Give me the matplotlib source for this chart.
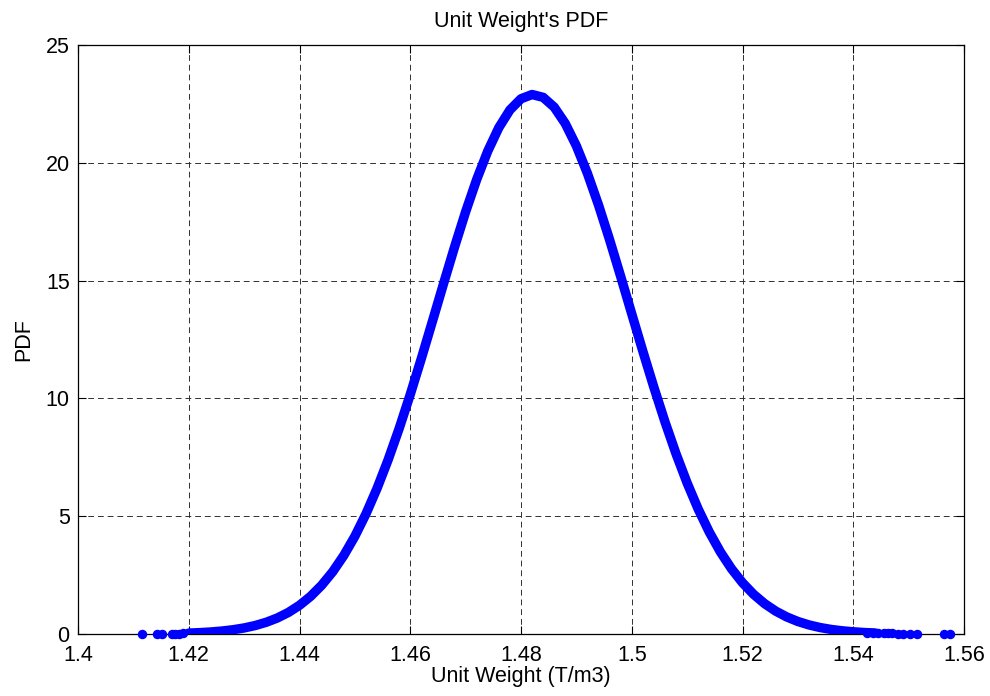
import matplotlib
matplotlib.use("Agg")
import matplotlib.pyplot as plt

plt.rcParams['font.family'] = ['Liberation Sans', 'DejaVu Sans']

# Dense part of the PDF curve
unit_weight = [1.420, 1.422, 1.424, 1.426, 1.428, 1.430, 1.432, 1.434, 1.436, 1.438,
               1.440, 1.442, 1.444, 1.446, 1.448, 1.450, 1.452, 1.454, 1.456, 1.458,
               1.460, 1.462, 1.464, 1.466, 1.468, 1.470, 1.472, 1.474, 1.476, 1.478,
               1.480, 1.482, 1.484, 1.486, 1.488, 1.490, 1.492, 1.494, 1.496, 1.498,
               1.500, 1.502, 1.504, 1.506, 1.508, 1.510, 1.512, 1.514, 1.516, 1.518,
               1.520, 1.522, 1.524, 1.526, 1.528, 1.530, 1.532, 1.534, 1.536, 1.538,
               1.540, 1.542, 1.544]
pdf = [0.039, 0.058, 0.086, 0.126, 0.181, 0.257, 0.360, 0.498, 0.680, 0.916,
       1.218, 1.598, 2.069, 2.643, 3.333, 4.148, 5.096, 6.178, 7.390, 8.725,
       10.166, 11.691, 13.268, 14.861, 16.426, 17.920, 19.293, 20.498, 21.495, 22.244,
       22.718, 22.898, 22.778, 22.361, 21.665, 20.716, 19.548, 18.206, 16.733, 15.178,
       13.587, 12.004, 10.467, 9.005, 7.647, 6.410, 5.301, 4.328, 3.486, 2.772,
       2.175, 1.684, 1.287, 0.971, 0.723, 0.531, 0.385, 0.275, 0.194, 0.136,
       0.093, 0.063, 0.042]

# Sparse tail samples
tail_x = [1.4115, 1.4142, 1.4151, 1.4169, 1.4175, 1.4182, 1.4190,
          1.5425, 1.5435, 1.5445, 1.5455, 1.5462, 1.5470, 1.5480, 1.5490,
          1.5502, 1.5515, 1.5563, 1.5575]
tail_pdf = [0.003, 0.006, 0.008, 0.013, 0.016, 0.019, 0.025,
            0.052, 0.045, 0.038, 0.032, 0.028, 0.024, 0.020, 0.016,
            0.013, 0.009, 0.002, 0.0015]

x_ticks = [1.40, 1.42, 1.44, 1.46, 1.48, 1.50, 1.52, 1.54, 1.56]
x_tick_labels = ['1.4', '1.42', '1.44', '1.46', '1.48', '1.5', '1.52', '1.54', '1.56']
y_ticks = [0, 5, 10, 15, 20, 25]

fig = plt.figure(figsize=(9.9, 6.96), dpi=100)
ax = fig.add_axes([78/990, 62/696, (964-78)/990, (634-45)/696])

ax.plot(unit_weight, pdf, color='#0000FF', lw=6.8, solid_capstyle='round',
        solid_joinstyle='round', zorder=3)
ax.plot(tail_x, tail_pdf, linestyle='none', marker='o', ms=5.8,
        mec='#0000FF', mfc='#0000FF', zorder=3, clip_on=False)

ax.set_xlim(1.40, 1.56)
ax.set_ylim(0, 25)
ax.set_xticks(x_ticks)
ax.set_xticklabels(x_tick_labels)
ax.set_yticks(y_ticks)

ax.grid(True, color='#303030', linestyle=(0, (6, 4)), linewidth=0.7, zorder=1)
ax.set_axisbelow(True)
ax.tick_params(direction='in', length=6, width=0.8, top=True, right=True,
               labelsize=15.5, colors='black')
ax.tick_params(axis='x', pad=8)
ax.tick_params(axis='y', pad=6)
for s in ax.spines.values():
    s.set_linewidth(0.9)
    s.set_color('black')

ax.set_title("Unit Weight's PDF", fontsize=15.5, pad=13)
ax.set_xlabel('Unit Weight (T/m3)', fontsize=15.5, labelpad=0)
ax.set_ylabel('PDF', fontsize=15.5, labelpad=8)

fig.savefig('out.png', dpi=100)
